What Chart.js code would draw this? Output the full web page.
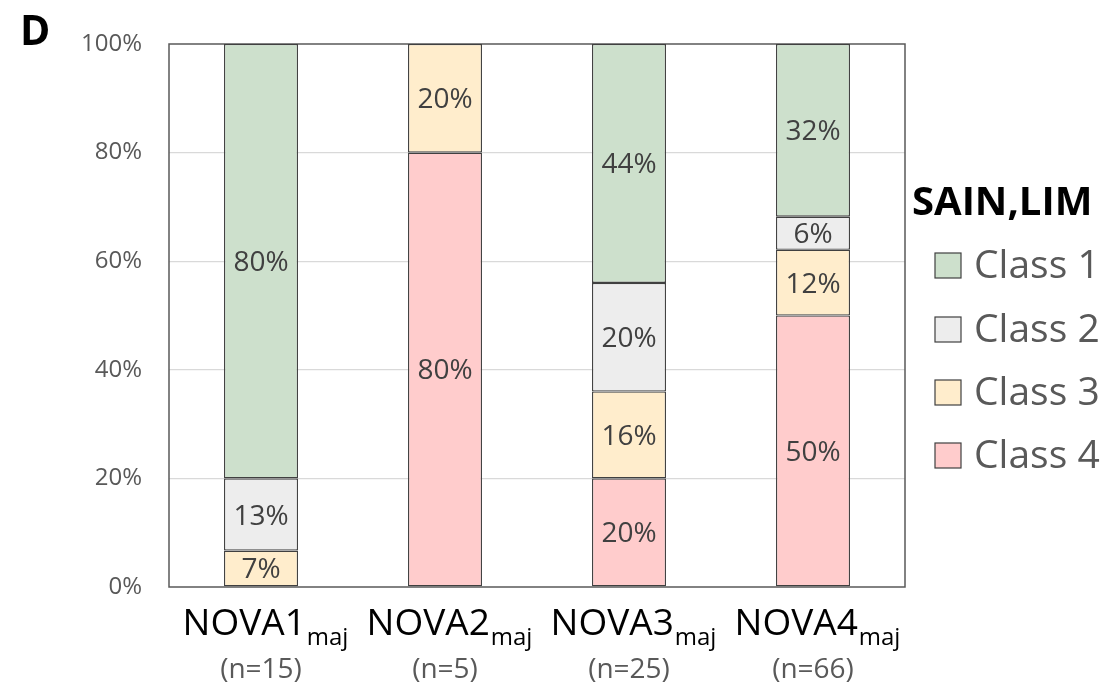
<!DOCTYPE html>
<html>
<head>
<meta charset="utf-8">
<script src="https://cdn.jsdelivr.net/npm/chart.js@4/dist/chart.umd.min.js"></script>
<style>
  html, body { margin: 0; padding: 0; background: #fff; }
  #wrap { width: 1117px; height: 692px; }
</style>
</head>
<body>
<div id="wrap"><canvas id="c" width="1117" height="692"></canvas></div>
<script>
// ---- Data ----
const categories = ['NOVA1', 'NOVA2', 'NOVA3', 'NOVA4'];
const subscripts = ['maj', 'maj', 'maj', 'maj'];
const countLabels = ['(n=15)', '(n=5)', '(n=25)', '(n=66)'];
const class1 = [80, 0, 44, 31.8];
const class2 = [13.3, 0, 20, 6.1];
const class3 = [6.7, 20, 16, 12.1];
const class4 = [0, 80, 20, 50];
const yTicks = [0, 20, 40, 60, 80, 100];
const legendTitle = 'SAIN,LIM';
const classNames = ['Class 1', 'Class 2', 'Class 3', 'Class 4'];
const panelLetter = 'D';

const colors = {
  'Class 1': '#cde0cc',
  'Class 2': '#ededed',
  'Class 3': '#ffedcc',
  'Class 4': '#ffcccc'
};
const FONT = '"Open Sans", "Liberation Sans", sans-serif';

function ds(label, data) {
  return {
    label, data,
    backgroundColor: colors[label],
    borderColor: '#404040',
    borderWidth: (ctx) => (ctx.raw ? 1.3 : 0),
    borderSkipped: false,
    barPercentage: 0.402,
    categoryPercentage: 1.0
  };
}

const framePlugin = {
  id: 'frame',
  beforeDatasetsDraw(chart) {
    const a = chart.chartArea, c = chart.ctx;
    c.save();
    c.strokeStyle = '#595959';
    c.lineWidth = 1.5;
    c.strokeRect(a.left, a.top, a.right - a.left, a.bottom - a.top);
    c.restore();
  }
};

const labelPlugin = {
  id: 'labels',
  afterDatasetsDraw(chart) {
    const c = chart.ctx;
    c.save();
    const size = 28;
    c.font = size + 'px ' + FONT;
    c.fillStyle = '#404040';
    c.textAlign = 'center';
    c.textBaseline = 'alphabetic';
    chart.data.datasets.forEach((d, di) => {
      const meta = chart.getDatasetMeta(di);
      meta.data.forEach((bar, i) => {
        const v = d.data[i];
        if (!v) return;
        const cy = (bar.y + bar.base) / 2;
        c.fillText(Math.round(v) + '%', bar.x, cy + size * 0.357);
      });
    });
    c.restore();
  },
  afterDraw(chart) {
    const c = chart.ctx;
    const xs = chart.scales.x;
    c.save();
    // category labels
    categories.forEach((cat, i) => {
      const x = xs.getPixelForValue(i);
      c.font = '37px ' + FONT;
      const w1 = c.measureText(cat).width;
      c.font = '24px ' + FONT;
      const w2 = c.measureText(subscripts[i]).width;
      const start = x - (w1 + w2) / 2 + 4;
      c.textAlign = 'left';
      c.textBaseline = 'alphabetic';
      c.fillStyle = '#000000';
      c.font = '37px ' + FONT;
      c.fillText(cat, start, 635);
      c.font = '24px ' + FONT;
      c.fillText(subscripts[i], start + w1 + 1, 645);
      c.textAlign = 'center';
      c.fillStyle = '#595959';
      c.font = '28px ' + FONT;
      c.fillText(countLabels[i], x, 678);
    });
    // legend
    c.textAlign = 'left';
    c.textBaseline = 'alphabetic';
    c.fillStyle = '#000000';
    c.font = 'bold 40px ' + FONT;
    c.fillText(legendTitle, 912, 215);
    const baselines = [278, 342, 405, 468];
    classNames.forEach((name, i) => {
      const b = baselines[i];
      c.fillStyle = colors[name];
      c.fillRect(935, b - 25, 26, 25);
      c.strokeStyle = '#404040';
      c.lineWidth = 1.2;
      c.strokeRect(935, b - 25, 26, 25);
      c.fillStyle = '#595959';
      c.font = '39px ' + FONT;
      c.fillText(name, 974, b);
    });
    // panel letter
    c.fillStyle = '#000000';
    c.font = 'bold 41px ' + FONT;
    c.fillText(panelLetter, 20, 45);
    c.restore();
  }
};

new Chart(document.getElementById('c'), {
  type: 'bar',
  data: {
    labels: categories,
    datasets: [
      ds('Class 4', class4),
      ds('Class 3', class3),
      ds('Class 2', class2),
      ds('Class 1', class1)
    ]
  },
  options: {
    responsive: false,
    animation: false,
    devicePixelRatio: 1,
    layout: { padding: { left: 0, top: 44, right: 1117 - 905, bottom: 692 - 587 } },
    plugins: { legend: { display: false }, tooltip: { enabled: false } },
    scales: {
      x: {
        stacked: true,
        grid: { display: false },
        border: { display: false },
        ticks: { display: false },
        afterFit(s) { s.height = 0; }
      },
      y: {
        stacked: true,
        min: 0, max: 100,
        afterBuildTicks(s) { s.ticks = yTicks.map(v => ({ value: v })); },
        afterFit(s) { s.width = 169; },
        border: { display: false },
        grid: {
          drawTicks: false,
          color: (ctx) => (ctx.tick && (ctx.tick.value === 0 || ctx.tick.value === 100)) ? 'rgba(0,0,0,0)' : '#d9d9d9',
          lineWidth: 1.3
        },
        ticks: {
          padding: 27,
          color: '#595959',
          font: { family: FONT, size: 24 },
          callback: (v) => v + '%'
        }
      }
    }
  },
  plugins: [framePlugin, labelPlugin]
});
</script>
</body>
</html>
